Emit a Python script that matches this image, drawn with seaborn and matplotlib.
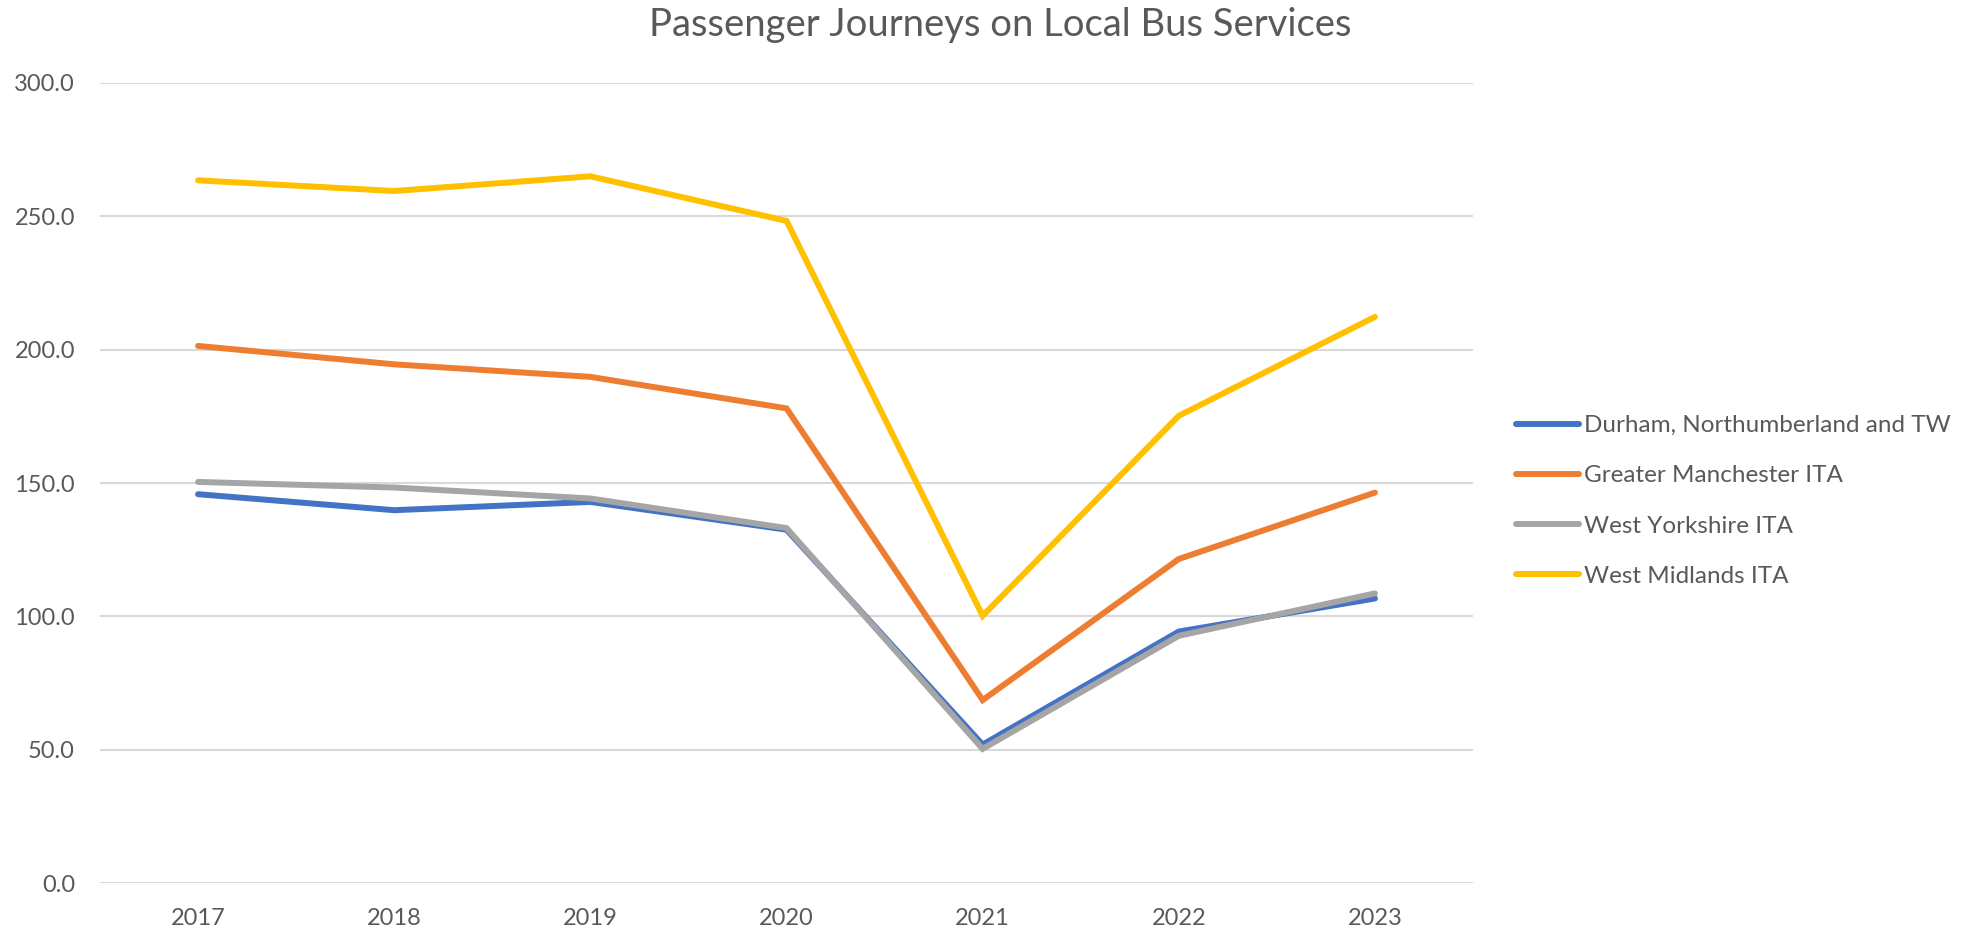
import matplotlib
matplotlib.use("Agg")
import matplotlib.pyplot as plt
import seaborn as sns
import pandas as pd

# ─────────────────────────────────────────────
# Data (millions of journeys)
# ─────────────────────────────────────────────
years = [2017, 2018, 2019, 2020, 2021, 2022, 2023]
durham     = [145.8, 139.8, 142.9, 132.5, 51.9, 94.3, 106.7]
manchester = [201.4, 194.5, 189.8, 178.0, 68.6, 121.5, 146.4]
yorkshire  = [150.4, 148.3, 144.2, 133.1, 50.3, 92.7, 108.6]
midlands   = [263.5, 259.5, 265.0, 248.3, 100.2, 175.2, 212.3]

series_names = [
    "Durham, Northumberland and TW",
    "Greater Manchester ITA",
    "West Yorkshire ITA",
    "West Midlands ITA",
]
series_values = [durham, manchester, yorkshire, midlands]
colors = ["#4472C4", "#ED7D31", "#A5A5A5", "#FFC000"]
y_ticks = [0, 50, 100, 150, 200, 250, 300]

df = pd.concat(
    [pd.DataFrame({"Year": years, "Journeys": vals, "Area": name})
     for name, vals in zip(series_names, series_values)],
    ignore_index=True,
)

# ─────────────────────────────────────────────
# Figure
# ─────────────────────────────────────────────
sns.set_style("white")
plt.rcParams["font.family"] = ["Lato", "DejaVu Sans"]
text_color = "#595959"

fig = plt.figure(figsize=(19.62, 9.30), dpi=100)
ax = fig.add_axes([100 / 1962, 1 - 883 / 930, 1373 / 1962, 800 / 930])

sns.lineplot(
    data=df, x="Year", y="Journeys", hue="Area",
    hue_order=series_names, palette=colors,
    linewidth=4.3, ax=ax, legend=True,
)
for line in ax.get_lines():
    line.set_solid_capstyle("round")
    line.set_solid_joinstyle("miter")

ax.set_xlim(years[0] - 0.5, years[-1] + 0.5)
ax.set_ylim(0, 300)
ax.set_xticks(years)
ax.set_xticklabels([str(y) for y in years])
ax.set_yticks(y_ticks)
ax.set_yticklabels([f"{v:.1f}" for v in y_ticks])
ax.set_xlabel("")
ax.set_ylabel("")

ax.grid(axis="y", color="#D9D9D9", linewidth=1.5)
ax.set_axisbelow(True)
for s in ax.spines.values():
    s.set_visible(False)
ax.tick_params(axis="both", length=0, labelsize=17, colors=text_color)
ax.tick_params(axis="y", pad=18)
ax.tick_params(axis="x", pad=18)

# Legend at right, outside the plot area
leg = ax.legend(
    loc="center left",
    bbox_to_anchor=(1516 / 1962, 1 - 501 / 930),
    bbox_transform=fig.transFigure,
    frameon=False, fontsize=17.5,
    handlelength=2.6, handletextpad=0.2,
    labelspacing=1.2, borderpad=0, borderaxespad=0,
)
for t in leg.get_texts():
    t.set_color(text_color)
for h in leg.get_lines():
    h.set_linewidth(4.3)
    h.set_solid_capstyle("round")

fig.text(0.51, 1 - 25 / 930, "Passenger Journeys on Local Bus Services",
         ha="center", va="center", fontsize=27.5, color=text_color)

fig.savefig("out.png", dpi=100, facecolor="white")
